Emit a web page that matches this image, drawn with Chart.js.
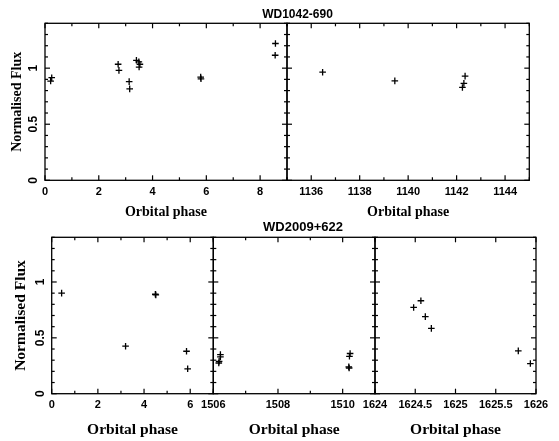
<!DOCTYPE html>
<html><head><meta charset="utf-8">
<script src="https://cdn.jsdelivr.net/npm/chart.js@4"></script>
<style>
html,body{margin:0;padding:0;background:#fff;}
#wrap{position:relative;width:559px;height:441px;overflow:hidden;background:#fff;}
#wrap canvas{position:absolute;left:0;top:0;}
</style></head><body><div id="wrap">
<canvas id="c1" width="559" height="441"></canvas>
<canvas id="c2" width="559" height="441"></canvas>
<canvas id="c3" width="559" height="441"></canvas>
<canvas id="c4" width="559" height="441"></canvas>
<canvas id="c5" width="559" height="441"></canvas>
</div>
<script>
// ---------- data ----------
const wd1042PhaseEarly = [0.21, 0.25, 2.72, 2.75, 3.13, 3.15, 3.40, 3.49, 3.53, 3.50, 5.79, 5.80, 8.57, 8.56];
const wd1042FluxEarly  = [0.885, 0.915, 1.035, 0.98, 0.88, 0.815, 1.07, 1.056, 1.035, 1.01, 0.92, 0.905, 1.22, 1.115];
const wd1042PhaseLate  = [1136.47, 1139.45, 1142.35, 1142.30, 1142.24];
const wd1042FluxLate   = [0.964, 0.887, 0.929, 0.864, 0.828];
const wd2009PhaseA = [0.43, 3.20, 4.49, 4.51, 5.84, 5.89];
const wd2009FluxA  = [0.90, 0.425, 0.89, 0.885, 0.38, 0.223];
const wd2009PhaseB = [1506.22, 1506.22, 1506.18, 1506.17, 1510.23, 1510.21, 1510.19, 1510.20];
const wd2009FluxB  = [0.35, 0.33, 0.29, 0.275, 0.36, 0.335, 0.24, 0.23];
const wd2009PhaseC = [1624.48, 1624.57, 1624.625, 1624.70, 1625.78, 1625.93];
const wd2009FluxC  = [0.772, 0.832, 0.69, 0.585, 0.383, 0.27];

const fluxTicks = [0, 0.5, 1];
const fluxTickLabels = ['0', '0.5', '1'];
const phaseTicksA = [0, 2, 4, 6, 8];
const phaseTickLabelsA = ['0', '2', '4', '6', '8'];
const phaseTicksB = [1136, 1138, 1140, 1142, 1144];
const phaseTickLabelsB = ['1136', '1138', '1140', '1142', '1144'];
const phaseTicksC = [0, 2, 4, 6];
const phaseTickLabelsC = ['0', '2', '4', '6'];
const phaseTicksD = [1506, 1508, 1510];
const phaseTickLabelsD = ['1506', '1508', '1510'];
const phaseTicksE = [1624, 1624.5, 1625, 1625.5, 1626];
const phaseTickLabelsE = ['1624', '1624.5', '1625', '1625.5', '1626'];
const objectNames = ['WD1042-690', 'WD2009+622'];
const xTitleText = 'Orbital phase';
const yTitleText = 'Normalised Flux';

// ---------- layout ----------
const W = 559, H = 441;
const rows = [
  {top: 23.3, bottom: 180.3, xH: 40.5, yW: 40, yTitlePad: 4, tickPad: 5, titleSize: 14, name: objectNames[0], nameX: 297.5, nameY: 15, nameSize: 12},
  {top: 237.3, bottom: 393.7, xH: 45.5, yW: 46.7, yTitlePad: 6.5, tickPad: 4.5, titleSize: 15.5, name: objectNames[1], nameX: 303, nameY: 227.5, nameSize: 13}
];
const panels = [
  {id: 'c1', px: wd1042PhaseEarly, fy: wd1042FluxEarly, xMin: 0, xMax: 9, xt: phaseTicksA, xl: phaseTickLabelsA, minor: 1, left: 45, right: 287, row: 0, showY: true, name: true},
  {id: 'c2', px: wd1042PhaseLate, fy: wd1042FluxLate, xMin: 1135, xMax: 1145, xt: phaseTicksB, xl: phaseTickLabelsB, minor: 1, left: 287, right: 529.3, row: 0, showY: false},
  {id: 'c3', px: wd2009PhaseA, fy: wd2009FluxA, xMin: 0, xMax: 7, xt: phaseTicksC, xl: phaseTickLabelsC, minor: 1, left: 51.7, right: 213.3, row: 1, showY: true, name: true},
  {id: 'c4', px: wd2009PhaseB, fy: wd2009FluxB, xMin: 1506, xMax: 1511, xt: phaseTicksD, xl: phaseTickLabelsD, minor: 1, left: 213.3, right: 375, row: 1, showY: false},
  {id: 'c5', px: wd2009PhaseC, fy: wd2009FluxC, xMin: 1624, xMax: 1626, xt: phaseTicksE, xl: phaseTickLabelsE, minor: 0.5, left: 375, right: 536, row: 1, showY: false}
];

const frameTicks = {
  id: 'frameTicks',
  afterDatasetsDraw(chart, args, o) {
    const {ctx, chartArea: a, scales: {x, y}} = chart;
    ctx.save();
    ctx.strokeStyle = '#000';
    ctx.lineWidth = 1.2;
    const line = (x1, y1, x2, y2) => { ctx.beginPath(); ctx.moveTo(x1, y1); ctx.lineTo(x2, y2); ctx.stroke(); };
    const nx = Math.round((x.max - x.min) / o.minor);
    for (let i = 0; i <= nx; i++) {
      const v = x.min + i * o.minor;
      const major = o.xt.some(t => Math.abs(t - v) < 1e-6);
      const len = major ? 5 : 3;
      const p = x.getPixelForValue(v);
      line(p, a.bottom, p, a.bottom - len);
      line(p, a.top, p, a.top + len);
    }
    const ny = Math.round((y.max - y.min) / 0.1);
    for (let i = 0; i <= ny; i++) {
      const v = y.min + i * 0.1;
      const major = Math.abs(v / 0.5 - Math.round(v / 0.5)) < 1e-6;
      const len = major ? 5 : 3;
      const p = y.getPixelForValue(v);
      line(a.left, p, a.left + len, p);
      line(a.right, p, a.right - len, p);
    }
    ctx.lineWidth = 1.3;
    ctx.strokeRect(a.left, a.top, a.right - a.left, a.bottom - a.top);
    if (o.name) {
      ctx.fillStyle = '#000';
      ctx.font = 'bold ' + o.nameSize + 'px "Liberation Sans", sans-serif';
      ctx.textAlign = 'center';
      ctx.textBaseline = 'middle';
      ctx.fillText(o.name, o.nameX, o.nameY);
    }
    ctx.restore();
  }
};

const tickFont = {family: '"Liberation Sans", sans-serif', weight: 'bold', size: 11};
const yTickFont = {family: '"Liberation Sans", sans-serif', weight: 'bold', size: 12};

panels.forEach(p => {
  const r = rows[p.row];
  const yW = p.showY ? r.yW : 0;
  const titleFont = {family: '"Liberation Serif", serif', weight: 'bold', size: r.titleSize};
  new Chart(document.getElementById(p.id), {
    type: 'scatter',
    data: {
      datasets: [{
        data: p.px.map((v, i) => ({x: v, y: p.fy[i]})),
        pointStyle: 'cross',
        pointRadius: 3.3,
        borderColor: '#000',
        backgroundColor: '#000',
        pointBorderWidth: 1.3,
        clip: false
      }]
    },
    options: {
      responsive: false,
      animation: false,
      events: [],
      layout: {
        autoPadding: false,
        padding: {left: p.left - yW, top: r.top, right: W - p.right, bottom: H - r.bottom - r.xH}
      },
      plugins: {
        legend: {display: false}, tooltip: {enabled: false}, title: {display: false},
        frameTicks: {minor: p.minor, xt: p.xt, name: p.name ? r.name : null, nameX: r.nameX, nameY: r.nameY, nameSize: r.nameSize}
      },
      scales: {
        x: {
          type: 'linear', min: p.xMin, max: p.xMax,
          afterBuildTicks: s => { s.ticks = p.xt.map(v => ({value: v})); },
          ticks: {callback: (v, i) => p.xl[i], font: tickFont, color: '#000', padding: r.tickPad, maxRotation: 0, minRotation: 0, autoSkip: false},
          grid: {display: false, drawTicks: false},
          border: {display: false},
          title: {display: true, text: xTitleText, font: titleFont, color: '#000', padding: 0},
          afterFit: s => { s.height = r.xH; s.paddingLeft = 0; s.paddingRight = 0; }
        },
        y: {
          type: 'linear', min: 0, max: 1.4,
          display: p.showY,
          afterBuildTicks: s => { s.ticks = fluxTicks.map(v => ({value: v})); },
          ticks: {callback: (v, i) => fluxTickLabels[i], font: yTickFont, color: '#000', padding: 3, minRotation: 90, maxRotation: 90, crossAlign: 'center', autoSkip: false},
          grid: {display: false, drawTicks: false},
          border: {display: false},
          title: {display: true, text: yTitleText, font: titleFont, color: '#000', padding: {top: r.yTitlePad, bottom: 0}},
          afterFit: s => { s.width = yW; s.paddingTop = 0; s.paddingBottom = 0; }
        }
      }
    },
    plugins: [frameTicks]
  });
});
</script>
</body></html>
